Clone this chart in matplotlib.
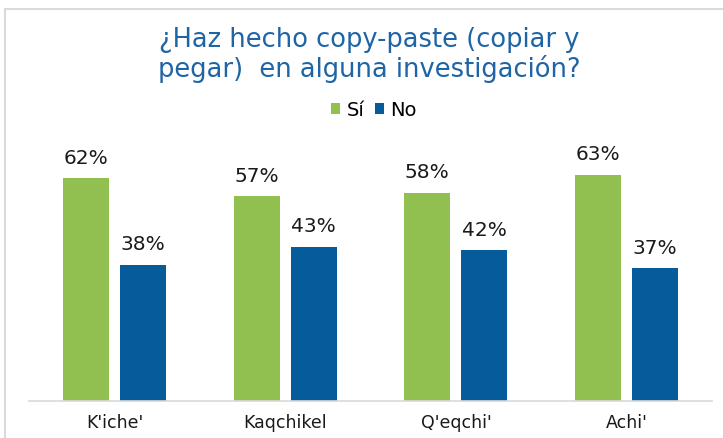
import matplotlib
matplotlib.use('Agg')
from matplotlib import pyplot as plt
from matplotlib.patches import Rectangle
import numpy as np

categories = ["K'iche'", "Kaqchikel", "Q'eqchi'", "Achi'"]
si = [62, 57, 58, 63]
no = [38, 43, 42, 37]
series_names = ['Sí', 'No']

green = '#92C050'
blue = '#065C9B'
title_color = '#1F65A6'
text_color = '#1A1A1A'

plt.rcParams['font.family'] = ['DejaVu Sans']

fig = plt.figure(figsize=(7.23, 4.39), dpi=100)
# marco gris del recorte
fig.patches.append(Rectangle((5/723, -0.1), 1.2, (429/439) + 0.1, transform=fig.transFigure,
                             fill=False, edgecolor='#DADADA', linewidth=1.5))

ax = fig.add_axes([29/723, 37/439, 683/723, 265/439])
x = np.arange(len(categories))
w = 0.27
off = 0.167
b1 = ax.bar(x - off, si, w, color=green, label=series_names[0])
b2 = ax.bar(x + off, no, w, color=blue, label=series_names[1])

for bars, vals in ((b1, si), (b2, no)):
    for r, v in zip(bars, vals):
        ax.text(r.get_x() + r.get_width()/2, v + 3.2, f'{v}%', ha='center', va='bottom',
                fontsize=14.5, color=text_color)

ax.set_xlim(-0.5, len(categories) - 0.5)
ax.set_ylim(0, 265/3.59)
ax.set_yticks([])
ax.set_xticks(x)
ax.set_xticklabels(categories, fontsize=12.5, color=text_color)
ax.tick_params(axis='x', length=0, pad=9)
for s in ['top', 'right', 'left']:
    ax.spines[s].set_visible(False)
ax.spines['bottom'].set_color('#D9D9D9')
ax.spines['bottom'].set_linewidth(1.2)

fig.text(369/723, 1 - 55/439, '¿Haz hecho copy-paste (copiar y\npegar)  en alguna investigación?',
         ha='center', va='center', fontsize=18.5, color=title_color, linespacing=1.1)

fig.legend(handles=[b1, b2], loc='center', bbox_to_anchor=(374/723, 1 - 111/439), ncol=2,
           frameon=False, fontsize=14, handlelength=0.46, handleheight=0.46,
           handletextpad=0.3, columnspacing=0.57, borderpad=0)

plt.savefig('out.png', dpi=100)
